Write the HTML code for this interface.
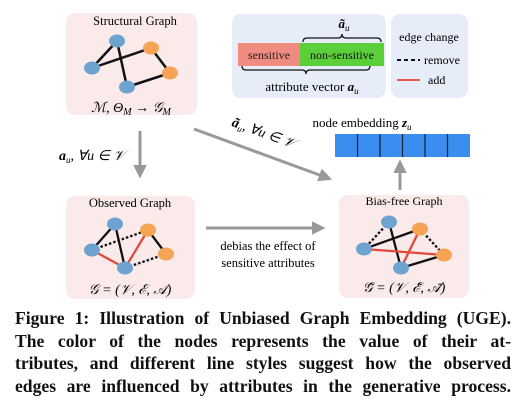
<!DOCTYPE html>
<html><head><meta charset="utf-8"><style>
body{margin:0;width:528px;height:405px;background:#fff;overflow:hidden;position:relative}
svg{position:absolute;left:0;top:0}
.cap{position:absolute;left:15px;width:496px;top:307px;font-family:"Liberation Serif",serif;font-weight:bold;font-size:17.6px;line-height:22.5px;color:#111}
.cap div{white-space:nowrap;text-align:justify;text-align-last:justify}
</style></head><body>
<svg width="528" height="405" viewBox="0 0 528 405" font-family="Liberation Serif, serif">
<defs><marker id="ah" markerWidth="4.5" markerHeight="4.5" refX="2" refY="2.25" orient="auto" markerUnits="strokeWidth"><path d="M0,0 L4.5,2.25 L0,4.5 z" fill="#999"/></marker></defs>
<rect x="66" y="13" width="131" height="102" rx="9" fill="#fbeaea"/>
<rect x="232" y="14" width="154" height="84" rx="9" fill="#e6ecf8"/>
<rect x="391" y="14" width="77" height="84" rx="9" fill="#e6ecf8"/>
<rect x="66" y="196" width="129" height="103" rx="9" fill="#fbeaea"/>
<rect x="339" y="195" width="130" height="103" rx="9" fill="#fbeaea"/>
<text x="135" y="25" font-size="12.5" text-anchor="middle">Structural Graph</text>
<g stroke="#111" stroke-width="2.5">
<line x1="117" y1="41" x2="92" y2="68"/><line x1="117" y1="41" x2="127" y2="87"/>
<line x1="92" y1="68" x2="151" y2="48"/><line x1="151" y1="48" x2="170" y2="73"/><line x1="170" y1="73" x2="127" y2="87"/></g>
<g><ellipse cx="117" cy="41" rx="8" ry="6.5" fill="#6fa3cf"/><ellipse cx="151" cy="48" rx="8" ry="6.5" fill="#f5a455"/><ellipse cx="92" cy="68" rx="8" ry="6.5" fill="#6fa3cf"/><ellipse cx="170" cy="73" rx="8" ry="6.5" fill="#f5a455"/><ellipse cx="127" cy="87" rx="8" ry="6.5" fill="#6fa3cf"/></g>
<text x="131" y="112" font-size="14" text-anchor="middle" font-style="italic">ℳ, Θ<tspan font-size="10" dy="3">M</tspan><tspan dy="-3"> → 𝒢</tspan><tspan font-size="10" dy="3">M</tspan></text>
<rect x="238" y="43" width="62" height="23" fill="#f08b80"/>
<rect x="300" y="43" width="84" height="23" fill="#5bcf3a"/>
<text x="269" y="59" font-size="12" text-anchor="middle" fill="#222">sensitive</text>
<text x="342" y="59" font-size="12" text-anchor="middle" fill="#111">non-sensitive</text>
<path d="M303,42 q0,-4 4,-4 h31 q4,0 4,-4 q0,4 4,4 h31 q4,0 4,4" fill="none" stroke="#111" stroke-width="1.3"/>
<path d="M242,66 q0,4 4,4 h56 q4,0 4,4 q0,-4 4,-4 h56 q4,0 4,-4" fill="none" stroke="#111" stroke-width="1.3"/>
<text x="344" y="28" font-size="13" text-anchor="middle" font-weight="bold" font-style="italic">ã<tspan font-size="9" dy="3" font-weight="normal">u</tspan></text>
<text x="312" y="91" font-size="13" text-anchor="middle">attribute vector <tspan font-weight="bold" font-style="italic">a</tspan><tspan font-size="9" dy="3" font-style="italic">u</tspan></text>
<text x="429" y="41" font-size="12" text-anchor="middle">edge change</text>
<line x1="397" y1="60" x2="420" y2="60" stroke="#111" stroke-width="2" stroke-dasharray="4,3"/>
<text x="424" y="64" font-size="12">remove</text>
<line x1="397" y1="80" x2="420" y2="80" stroke="#e85a4a" stroke-width="2"/>
<text x="428" y="84" font-size="12">add</text>
<text x="362" y="127" font-size="13" text-anchor="middle">node embedding <tspan font-weight="bold" font-style="italic">z</tspan><tspan font-size="9" dy="3" font-style="italic">u</tspan></text>
<rect x="335" y="134" width="135" height="23" fill="#3b8df0"/>
<g stroke="#123" stroke-width="1.2"><line x1="357.5" y1="134" x2="357.5" y2="157"/><line x1="380" y1="134" x2="380" y2="157"/><line x1="402.5" y1="134" x2="402.5" y2="157"/><line x1="425" y1="134" x2="425" y2="157"/><line x1="447.5" y1="134" x2="447.5" y2="157"/></g>
<g stroke="#999" stroke-width="3" fill="none">
<line x1="140" y1="131" x2="140" y2="171" marker-end="url(#ah)"/>
<line x1="194" y1="129" x2="325" y2="177" marker-end="url(#ah)"/>
<line x1="206" y1="228" x2="318" y2="228" marker-end="url(#ah)"/>
<line x1="400" y1="190" x2="400" y2="167" marker-end="url(#ah)"/>
</g>
<text x="92" y="160" font-size="14" text-anchor="middle" font-style="italic"><tspan font-weight="bold">a</tspan><tspan font-size="9" dy="3">u</tspan><tspan dy="-3">, ∀u ∈ 𝒱</tspan></text>
<text x="0" y="0" font-size="14" text-anchor="middle" font-style="italic" transform="translate(262,137) rotate(20)"><tspan font-weight="bold">ã</tspan><tspan font-size="9" dy="3">u</tspan><tspan dy="-3">, ∀u ∈ 𝒱</tspan></text>
<text x="268" y="250" font-size="12.5" text-anchor="middle">debias the effect of</text>
<text x="268" y="267" font-size="12.5" text-anchor="middle">sensitive attributes</text>
<text x="130" y="207" font-size="12.5" text-anchor="middle">Observed Graph</text>
<g stroke-width="2.3">
<line x1="115" y1="224" x2="92" y2="250" stroke="#111"/><line x1="115" y1="224" x2="125" y2="268" stroke="#111"/>
<line x1="92" y1="250" x2="148" y2="230" stroke="#111" stroke-dasharray="2.5,2"/>
<line x1="148" y1="230" x2="166" y2="254" stroke="#111"/>
<line x1="166" y1="254" x2="125" y2="268" stroke="#111" stroke-dasharray="2.5,2"/>
<line x1="92" y1="250" x2="125" y2="268" stroke="#e04a3a"/>
<line x1="125" y1="268" x2="148" y2="230" stroke="#e04a3a"/></g>
<ellipse cx="115" cy="224" rx="8" ry="6.5" fill="#6fa3cf"/><ellipse cx="148" cy="230" rx="8" ry="6.5" fill="#f5a455"/><ellipse cx="92" cy="250" rx="8" ry="6.5" fill="#6fa3cf"/><ellipse cx="166" cy="254" rx="8" ry="6.5" fill="#f5a455"/><ellipse cx="125" cy="268" rx="8" ry="6.5" fill="#6fa3cf"/>
<text x="130" y="294" font-size="14" text-anchor="middle" font-style="italic">𝒢 = (𝒱, ℰ, 𝒜)</text>
<text x="404" y="205" font-size="12" text-anchor="middle">Bias-free Graph</text>
<g stroke-width="2.3">
<line x1="389" y1="222" x2="364" y2="249" stroke="#111" stroke-dasharray="2.5,2"/>
<line x1="389" y1="222" x2="401" y2="268" stroke="#111"/>
<line x1="364" y1="249" x2="420" y2="229" stroke="#111"/>
<line x1="420" y1="229" x2="444" y2="255" stroke="#111" stroke-dasharray="2.5,2"/>
<line x1="444" y1="255" x2="401" y2="268" stroke="#111"/>
<line x1="364" y1="249" x2="444" y2="255" stroke="#e04a3a"/>
<line x1="420" y1="229" x2="401" y2="268" stroke="#e04a3a"/></g>
<ellipse cx="389" cy="222" rx="8" ry="6.5" fill="#6fa3cf"/><ellipse cx="420" cy="229" rx="8" ry="6.5" fill="#f5a455"/><ellipse cx="364" cy="249" rx="8" ry="6.5" fill="#6fa3cf"/><ellipse cx="444" cy="255" rx="8" ry="6.5" fill="#f5a455"/><ellipse cx="401" cy="268" rx="8" ry="6.5" fill="#6fa3cf"/>
<text x="404" y="292" font-size="14" text-anchor="middle" font-style="italic">𝒢̃ = (𝒱, ℰ̃, 𝒜̃)</text>
</svg>
<div class="cap">
<div>Figure 1: Illustration of Unbiased Graph Embedding (UGE).</div>
<div>The color of the nodes represents the value of their at-</div>
<div>tributes, and different line styles suggest how the observed</div>
<div>edges are influenced by attributes in the generative process.</div>
</div>
</body></html>
